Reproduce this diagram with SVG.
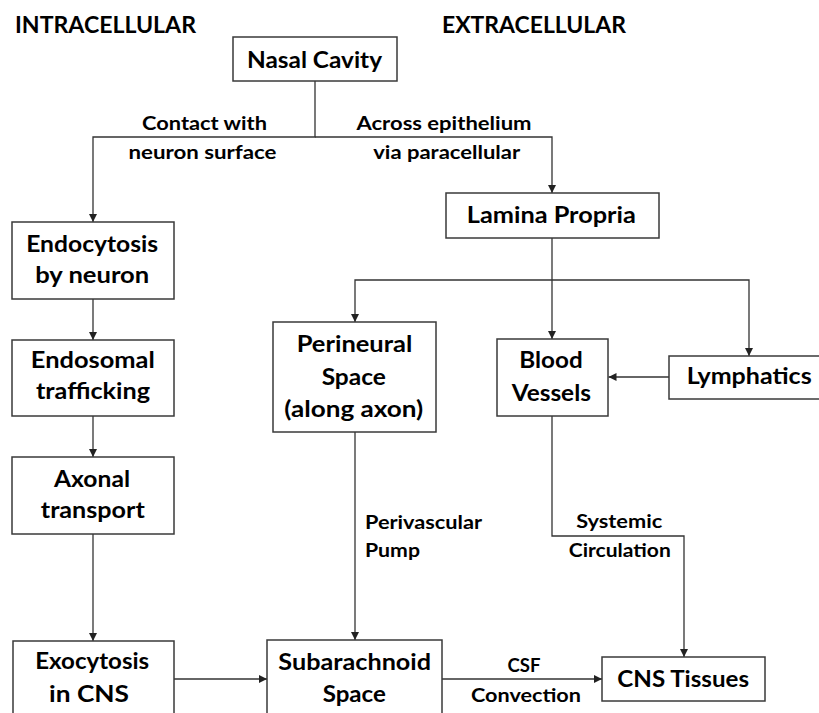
<svg xmlns="http://www.w3.org/2000/svg" width="819" height="713" viewBox="0 0 819 713">
  <style>
    .box { fill: #ffffff; stroke: #3a3a3a; stroke-width: 1.5; }
    .node text { font-family: Lato, "Open Sans", "Liberation Sans", sans-serif; font-weight: bold; font-size: 22px; fill: #000; text-anchor: middle; }
    .head { font-family: Lato, "Open Sans", "Liberation Sans", sans-serif; font-weight: bold; font-size: 22px; fill: #000; }
    .lbl { font-family: Lato, "Open Sans", "Liberation Sans", sans-serif; font-weight: bold; font-size: 18.5px; fill: #000; }
    .mid { text-anchor: middle; }
    .wire { fill: none; stroke: #333333; stroke-width: 1.3; }
    .arrow { marker-end: url(#tip); }
  </style>
  <defs>
    <marker id="tip" markerUnits="userSpaceOnUse" markerWidth="10" markerHeight="10" viewBox="0 0 10 10" refX="9" refY="5" orient="auto">
      <path d="M1,1 L9,5 L1,9 Z" fill="#222222"/>
    </marker>
  </defs>
  <rect width="819" height="713" fill="#ffffff"/>

  <!-- column headings -->
  <text class="head" x="15" y="33" textLength="181" lengthAdjust="spacingAndGlyphs">INTRACELLULAR</text>
  <text class="head" x="442" y="33" textLength="184" lengthAdjust="spacingAndGlyphs">EXTRACELLULAR</text>

  <!-- connectors -->
  <g id="connectors">
    <path class="wire arrow" d="M315,81 V137 H93 V222"/>
    <path class="wire arrow" d="M315,137 H552 V193"/>
    <path class="wire arrow" d="M93,299 V340"/>
    <path class="wire arrow" d="M93,416 V457"/>
    <path class="wire arrow" d="M93,534 V641"/>
    <path class="wire arrow" d="M552,238 V339"/>
    <path class="wire arrow" d="M552,280 H355 V322"/>
    <path class="wire arrow" d="M552,280 H749 V356"/>
    <path class="wire arrow" d="M669,377 H608.5"/>
    <path class="wire arrow" d="M355,432 V640"/>
    <path class="wire arrow" d="M552,416 V536 H684 V657"/>
    <path class="wire arrow" d="M174,679 H267"/>
    <path class="wire arrow" d="M442,679 H602"/>
  </g>

  <!-- connector labels -->
  <g id="labels">
    <text class="lbl mid" x="204.5" y="130" textLength="125" lengthAdjust="spacingAndGlyphs">Contact with</text>
    <text class="lbl mid" x="202.5" y="159" textLength="148" lengthAdjust="spacingAndGlyphs">neuron surface</text>
    <text class="lbl mid" x="444" y="130" textLength="175" lengthAdjust="spacingAndGlyphs">Across epithelium</text>
    <text class="lbl mid" x="446.7" y="159" textLength="147" lengthAdjust="spacingAndGlyphs">via paracellular</text>
    <text class="lbl" x="365" y="529" textLength="117" lengthAdjust="spacingAndGlyphs">Perivascular</text>
    <text class="lbl" x="365" y="557" textLength="55" lengthAdjust="spacingAndGlyphs">Pump</text>
    <text class="lbl mid" x="619.2" y="528" textLength="86" lengthAdjust="spacingAndGlyphs">Systemic</text>
    <text class="lbl mid" x="619.8" y="557" textLength="102" lengthAdjust="spacingAndGlyphs">Circulation</text>
    <text class="lbl mid" x="524" y="672" textLength="33" lengthAdjust="spacingAndGlyphs">CSF</text>
    <text class="lbl mid" x="526" y="701.5" textLength="110" lengthAdjust="spacingAndGlyphs">Convection</text>
  </g>

  <!-- nodes -->
  <g id="nasal-cavity" class="node">
    <rect class="box" x="233" y="37" width="164" height="44"/>
    <text x="314.5" y="68" textLength="135" lengthAdjust="spacingAndGlyphs">Nasal Cavity</text>
  </g>
  <g id="lamina-propria" class="node">
    <rect class="box" x="446" y="193" width="213" height="45"/>
    <text x="551.3" y="222.7" textLength="169" lengthAdjust="spacingAndGlyphs">Lamina Propria</text>
  </g>
  <g id="endocytosis" class="node">
    <rect class="box" x="12" y="222" width="162" height="77"/>
    <text x="92.2" y="251.7" textLength="132" lengthAdjust="spacingAndGlyphs">Endocytosis</text>
    <text x="92.2" y="283.3" textLength="114" lengthAdjust="spacingAndGlyphs">by neuron</text>
  </g>
  <g id="endosomal" class="node">
    <rect class="box" x="12" y="340" width="162" height="76"/>
    <text x="92.8" y="368.3" textLength="124" lengthAdjust="spacingAndGlyphs">Endosomal</text>
    <text x="93" y="399" textLength="114" lengthAdjust="spacingAndGlyphs">trafficking</text>
  </g>
  <g id="axonal" class="node">
    <rect class="box" x="12" y="457" width="162" height="77"/>
    <text x="92" y="487.3" textLength="76" lengthAdjust="spacingAndGlyphs">Axonal</text>
    <text x="92.8" y="518.3" textLength="104" lengthAdjust="spacingAndGlyphs">transport</text>
  </g>
  <g id="exocytosis" class="node">
    <rect class="box" x="13" y="641" width="161" height="90"/>
    <text x="92.2" y="669.3" textLength="114" lengthAdjust="spacingAndGlyphs">Exocytosis</text>
    <text x="89" y="701.7" textLength="80" lengthAdjust="spacingAndGlyphs">in CNS</text>
  </g>
  <g id="perineural" class="node">
    <rect class="box" x="273" y="322" width="163" height="110"/>
    <text x="354.5" y="351.7" textLength="115.6" lengthAdjust="spacingAndGlyphs">Perineural</text>
    <text x="353.8" y="385" textLength="64.3" lengthAdjust="spacingAndGlyphs">Space</text>
    <text x="353.8" y="416.7" textLength="139" lengthAdjust="spacingAndGlyphs">(along axon)</text>
  </g>
  <g id="blood-vessels" class="node">
    <rect class="box" x="497" y="339" width="111" height="77"/>
    <text x="551" y="368.3" textLength="63.4" lengthAdjust="spacingAndGlyphs">Blood</text>
    <text x="551.3" y="400.7" textLength="79.3" lengthAdjust="spacingAndGlyphs">Vessels</text>
  </g>
  <g id="lymphatics" class="node">
    <rect class="box" x="669" y="356" width="162" height="43"/>
    <text x="749.2" y="384.3" textLength="125" lengthAdjust="spacingAndGlyphs">Lymphatics</text>
  </g>
  <g id="subarachnoid" class="node">
    <rect class="box" x="267" y="640" width="175" height="90"/>
    <text x="354.7" y="670" textLength="152.7" lengthAdjust="spacingAndGlyphs">Subarachnoid</text>
    <text x="354.3" y="701.7" textLength="63.3" lengthAdjust="spacingAndGlyphs">Space</text>
  </g>
  <g id="cns-tissues" class="node">
    <rect class="box" x="602" y="657" width="163" height="44"/>
    <text x="683.2" y="686.7" textLength="131.7" lengthAdjust="spacingAndGlyphs">CNS Tissues</text>
  </g>
</svg>
